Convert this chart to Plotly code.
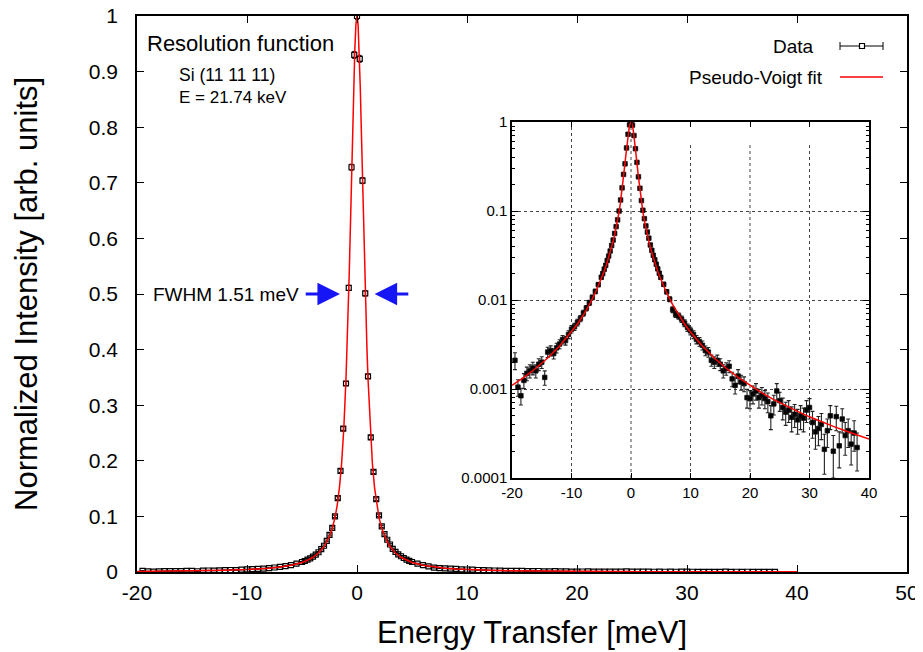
import plotly.graph_objects as go

# ---------------- data ----------------
energy = [-19.5, -19, -18.5, -18, -17.5, -17, -16.5, -16, -15.5, -15, -14.5, -14, -13.5, -13,
          -12.5, -12, -11.5, -11, -10.5, -10, -9.5, -9, -8.5, -8, -7.5, -7, -6.5, -6, -5.5,
          -5, -4.75, -4.5, -4.25, -4, -3.75, -3.5, -3.25, -3, -2.75, -2.5, -2.25, -2, -1.75,
          -1.5, -1.25, -1, -0.75, -0.5, -0.25, 0, 0.25, 0.5, 0.75, 1, 1.25, 1.5, 1.75, 2,
          2.25, 2.5, 2.75, 3, 3.25, 3.5, 3.75, 4, 4.25, 4.5, 4.75, 5,
          5.5, 6, 6.5, 7, 7.5, 8, 8.5, 9, 9.5, 10, 10.5, 11, 11.5, 12, 12.5, 13, 13.5, 14,
          14.5, 15, 15.5, 16, 16.5, 17, 17.5, 18, 18.5, 19, 19.5, 20, 20.5, 21, 21.5, 22,
          22.5, 23, 23.5, 24, 24.5, 25, 25.5, 26, 26.5, 27, 27.5, 28, 28.5, 29, 29.5, 30,
          30.5, 31, 31.5, 32, 32.5, 33, 33.5, 34, 34.5, 35, 35.5, 36, 36.5, 37, 37.5, 38]

intensity = [0.0021, 0.00105, 0.00084, 0.00125, 0.0015, 0.0016, 0.00172, 0.0016, 0.0019, 0.0020,
             0.00135, 0.0026, 0.0027, 0.0025, 0.0029, 0.0032, 0.0036, 0.0035, 0.0041, 0.0047,
             0.0050, 0.0056, 0.0062, 0.0071, 0.0081, 0.0093, 0.0107, 0.0125, 0.0149,
             0.0180, 0.0198, 0.0222, 0.0245, 0.0278, 0.0312, 0.0355, 0.0410, 0.0472, 0.0560,
             0.0668, 0.0795, 0.100, 0.133, 0.182, 0.258, 0.339, 0.511, 0.728, 0.930, 1.0,
             0.923, 0.704, 0.501, 0.352, 0.242, 0.180, 0.131, 0.102, 0.082, 0.068, 0.058,
             0.0495, 0.0415, 0.0362, 0.0318, 0.0283, 0.0252, 0.0224, 0.0200, 0.0180,
             0.0150, 0.0124, 0.0102, 0.0078, 0.0069, 0.0066, 0.0061, 0.0055, 0.0049, 0.0045,
             0.0041, 0.0036, 0.0034, 0.0031, 0.0027, 0.0026, 0.0021, 0.0020, 0.0021, 0.0019,
             0.0016, 0.0017, 0.0018, 0.0013, 0.0011, 0.0014, 0.0012, 0.00115, 0.0008, 0.00078,
             0.00088, 0.00095, 0.0008, 0.00085, 0.00078, 0.00072, 0.0005, 0.00068, 0.00095,
             0.00074, 0.00062, 0.00055, 0.00058, 0.00048, 0.00052, 0.00045, 0.0005, 0.00047,
             0.00058, 0.00062, 0.00042, 0.00033, 0.00036, 0.0004, 0.00021, 0.00034, 0.0005,
             0.0002, 0.00049, 0.00023, 0.00046, 0.0003, 0.00034, 0.00024, 0.00032, 0.00022]

error = [0.00045, 0.00022, 0.00018, 0.00024, 0.00026, 0.00027, 0.00028, 0.00027, 0.00029, 0.0003,
         0.00025, 0.00034, 0.00035, 0.00033, 0.00036, 0.00037, 0.00039, 0.00039, 0.00042, 0.00045,
         0.00046, 0.00048, 0.0005, 0.00054, 0.00057, 0.00061, 0.00065, 0.0007, 0.00077,
         0.00087, 0.0009, 0.00097, 0.001, 0.0011, 0.0012, 0.0012, 0.0013, 0.0014, 0.0015,
         0.0017, 0.0018, 0.0021, 0.0024, 0.0028, 0.0033, 0.0038, 0.0046, 0.0055, 0.0063, 0.0065,
         0.0062, 0.0055, 0.0046, 0.0039, 0.0032, 0.0028, 0.0024, 0.0021, 0.0019, 0.0017, 0.0016,
         0.0014, 0.0013, 0.0012, 0.0012, 0.0011, 0.001, 0.00097, 0.00092, 0.00087,
         0.0008, 0.00072, 0.00066, 0.00058, 0.00054, 0.00053, 0.00051, 0.00048, 0.00046, 0.00044,
         0.00042, 0.00039, 0.00038, 0.00036, 0.00034, 0.00033, 0.0003, 0.0003, 0.0003, 0.00029,
         0.00027, 0.00027, 0.00028, 0.00024, 0.00022, 0.00025, 0.00023, 0.00022, 0.00019, 0.00018,
         0.0002, 0.0002, 0.00019, 0.00019, 0.00018, 0.00018, 0.00015, 0.00017, 0.0002,
         0.00018, 0.00017, 0.00016, 0.00016, 0.00015, 0.00015, 0.00014, 0.00015, 0.00014,
         0.00016, 0.00016, 0.00014, 0.00012, 0.00013, 0.00013, 0.0001, 0.00012, 0.00015,
         0.0001, 0.00015, 0.0001, 0.00014, 0.00012, 0.00012, 0.0001, 0.00012, 0.0001]

fit_energy = [-20, -18, -16, -14, -12, -10, -9, -8, -7, -6, -5, -4.5, -4, -3.5, -3, -2.75, -2.5,
              -2.25, -2, -1.8, -1.6, -1.4, -1.2, -1.0, -0.9, -0.8, -0.7, -0.6, -0.5, -0.4, -0.3,
              -0.2, -0.1, 0, 0.1, 0.2, 0.3, 0.4, 0.5, 0.6, 0.7, 0.8, 0.9, 1.0, 1.2, 1.4, 1.6, 1.8,
              2, 2.25, 2.5, 2.75, 3, 3.5, 4, 4.5, 5, 6, 7, 8, 9, 10, 12, 14, 16, 18, 20, 22, 24,
              26, 28, 30, 32, 34, 36, 38, 40]
fit_intensity = [0.0011, 0.00135, 0.00171, 0.00223, 0.00304, 0.00437, 0.00538, 0.0068, 0.00886,
                 0.0120, 0.0172, 0.0211, 0.0265, 0.0342, 0.0459, 0.054, 0.0645, 0.078, 0.098,
                 0.120, 0.151, 0.195, 0.258, 0.348, 0.404, 0.469, 0.541, 0.621, 0.705, 0.790,
                 0.871, 0.939, 0.984, 1.0, 0.984, 0.939, 0.871, 0.790, 0.705, 0.621, 0.541, 0.469,
                 0.404, 0.348, 0.258, 0.195, 0.151, 0.120, 0.098, 0.078, 0.0645, 0.054, 0.0459,
                 0.0342, 0.0265, 0.0211, 0.0172, 0.0120, 0.00886, 0.0068, 0.00538, 0.00437,
                 0.00304, 0.00223, 0.00171, 0.00135, 0.0011, 0.000906, 0.000761, 0.000649,
                 0.00056, 0.000487, 0.000428, 0.00038, 0.000339, 0.000304, 0.000274]

main_xticks = [-20, -10, 0, 10, 20, 30, 40, 50]
main_xticktext = ["-20", "-10", "0", "10", "20", "30", "40", "50"]
main_yticks = [0, 0.1, 0.2, 0.3, 0.4, 0.5, 0.6, 0.7, 0.8, 0.9, 1]
main_yticktext = ["0", "0.1", "0.2", "0.3", "0.4", "0.5", "0.6", "0.7", "0.8", "0.9", "1"]
inset_xticks = [-20, -10, 0, 10, 20, 30, 40]
inset_xticktext = ["-20", "-10", "0", "10", "20", "30", "40"]
inset_yticks = [0.0001, 0.001, 0.01, 0.1, 1]
inset_yticktext = ["0.0001", "0.001", "0.01", "0.1", "1"]
# inset vertical grid lines (the ones right of the peak stop below the inset's top)
inset_vgrid = [-10, 0, 10, 20, 30]
inset_vgrid_top = [1, 1, 0.55, 0.55, 0.55]

# ---------------- layout helpers ----------------
# the page body has an 8px margin, so the figure is drawn 8px right/down
OFF = 8
W, H = 923 - OFF, 652 - OFF
L, R, T, B = 137, 907, 16, 572   # plot frame in page pixels


def px(x):
    return (x - L) / (R - L)


def py(y):
    return (B - y) / (B - T)


FONT = "Liberation Sans, Arial, Helvetica, sans-serif"

fig = go.Figure()

# main plot
fig.add_trace(go.Scatter(
    x=energy, y=intensity, mode="markers", xaxis="x", yaxis="y",
    marker=dict(symbol="square-open", size=5, color="black", line=dict(width=1.2, color="black")),
    error_y=dict(type="data", array=error, color="black", thickness=1, width=2),
    showlegend=False))
fig.add_trace(go.Scatter(
    x=fit_energy, y=fit_intensity, mode="lines", xaxis="x", yaxis="y",
    line=dict(color="#ff0000", width=1.5), showlegend=False))

# inset
fig.add_trace(go.Scatter(
    x=energy, y=intensity, mode="markers", xaxis="x2", yaxis="y2",
    marker=dict(symbol="square", size=4.5, color="black", line=dict(width=0.8, color="#111")),
    error_y=dict(type="data", array=error, color="#222", thickness=1.1, width=2),
    showlegend=False))
fig.add_trace(go.Scatter(
    x=fit_energy, y=fit_intensity, mode="lines", xaxis="x2", yaxis="y2",
    line=dict(color="#ff0000", width=1.5), showlegend=False))

axis_common = dict(showline=True, linecolor="black", linewidth=1.5, mirror="ticks",
                   ticks="inside", tickcolor="black", tickwidth=1, zeroline=False,
                   showgrid=False, ticklabeloverflow="allow")

minor_log = []
for dec in [0.0001, 0.001, 0.01, 0.1]:
    for m in range(2, 10):
        minor_log.append(dec * m)

fig.update_layout(
    width=W, height=H,
    margin=dict(l=L - OFF, r=923 - R, t=T - OFF, b=652 - B, autoexpand=False),
    paper_bgcolor="white", plot_bgcolor="white",
    font=dict(family=FONT, color="black"),
    xaxis=dict(domain=[0, 1], range=[-20, 50], tickvals=main_xticks, ticktext=main_xticktext,
               ticklen=7, tickfont=dict(size=21), ticklabelstandoff=1, anchor="y",
               **axis_common),
    yaxis=dict(domain=[0, 1], range=[0, 1], tickvals=main_yticks, ticktext=main_yticktext,
               ticklen=7, tickfont=dict(size=21), ticklabelstandoff=13, anchor="x",
               **axis_common),
    xaxis2=dict(domain=[px(512), px(869)], range=[-20, 40], tickvals=inset_xticks,
                ticktext=inset_xticktext, ticklen=5, tickfont=dict(size=15), anchor="y2",
                ticklabelstandoff=0, ticklabeloverflow="allow",
                showline=True, linecolor="black", linewidth=1.5, mirror="ticks",
                ticks="inside", tickcolor="black", tickwidth=1, zeroline=False,
                showgrid=False),
    yaxis2=dict(domain=[py(478), py(122)], type="log", range=[-4, 0], tickvals=inset_yticks,
                ticktext=inset_yticktext, ticklen=6, tickfont=dict(size=15), anchor="x2",
                ticklabelstandoff=0, ticklabeloverflow="allow",
                minor=dict(tickvals=minor_log, ticks="inside", ticklen=3, tickcolor="black",
                           showgrid=False),
                showline=True, linecolor="black", linewidth=1.5, mirror="ticks",
                ticks="inside", tickcolor="black", tickwidth=1, zeroline=False,
                showgrid=True, gridcolor="#444", griddash="dot", gridwidth=1),
)

annotations = [
    dict(text="Resolution function", x=px(145), y=py(43), xanchor="left", yanchor="middle",
         font=dict(size=22)),
    dict(text="Si (11 11 11)", x=px(177), y=py(75), xanchor="left", yanchor="middle",
         font=dict(size=17.5)),
    dict(text="E = 21.74 keV", x=px(177), y=py(98), xanchor="left", yanchor="middle",
         font=dict(size=17)),
    dict(text="FWHM 1.51 meV", x=px(151), y=py(294), xanchor="left", yanchor="middle",
         font=dict(size=19)),
    dict(text="Data", x=px(816), y=py(46), xanchor="right", yanchor="middle",
         font=dict(size=19)),
    dict(text="Pseudo-Voigt fit", x=px(825), y=py(77), xanchor="right", yanchor="middle",
         font=dict(size=19)),
    dict(text="Energy Transfer [meV]", x=px(532), y=py(632), xanchor="center",
         yanchor="middle", font=dict(size=31)),
    dict(text="Normalized Intensity [arb. units]", x=px(26), y=py(294), xanchor="center",
         yanchor="middle", textangle=-90, font=dict(size=31)),
]
for a in annotations:
    a.update(xref="paper", yref="paper", showarrow=False)

# FWHM arrows (data coordinates at half maximum)
annotations.append(dict(x=-1.55, y=0.5, ax=-4.8, ay=0.5, xref="x", yref="y", axref="x",
                        ayref="y", text="", showarrow=True, arrowhead=2, arrowsize=1.5,
                        arrowwidth=3, arrowcolor="#1515f5"))
annotations.append(dict(x=1.6, y=0.5, ax=4.8, ay=0.5, xref="x", yref="y", axref="x",
                        ayref="y", text="", showarrow=True, arrowhead=2, arrowsize=1.5,
                        arrowwidth=3, arrowcolor="#1515f5"))
fig.update_layout(annotations=annotations)

# manual legend samples (gnuplot-style: text left, sample right)
shapes = [
    dict(type="line", x0=px(840), x1=px(883), y0=py(46), y1=py(46),
         line=dict(color="black", width=1)),
    dict(type="line", x0=px(840), x1=px(840), y0=py(42), y1=py(50),
         line=dict(color="black", width=1)),
    dict(type="line", x0=px(883), x1=px(883), y0=py(42), y1=py(50),
         line=dict(color="black", width=1)),
    dict(type="rect", x0=px(859.5), x1=px(864.5), y0=py(48.5), y1=py(43.5),
         line=dict(color="black", width=1.2), fillcolor="white"),
    dict(type="line", x0=px(840), x1=px(883), y0=py(77), y1=py(77),
         line=dict(color="#ff0000", width=1.5)),
]
for s in shapes:
    s.update(xref="paper", yref="paper")
# inset vertical dotted grid lines, drawn below the data
for gx, gtop in zip(inset_vgrid, inset_vgrid_top):
    shapes.append(dict(type="line", xref="x2", yref="y2", x0=gx, x1=gx, y0=0.0001, y1=gtop,
                       line=dict(color="#444", width=1, dash="dot"), layer="below"))
fig.update_layout(shapes=shapes)

fig.write_html("out.html")
